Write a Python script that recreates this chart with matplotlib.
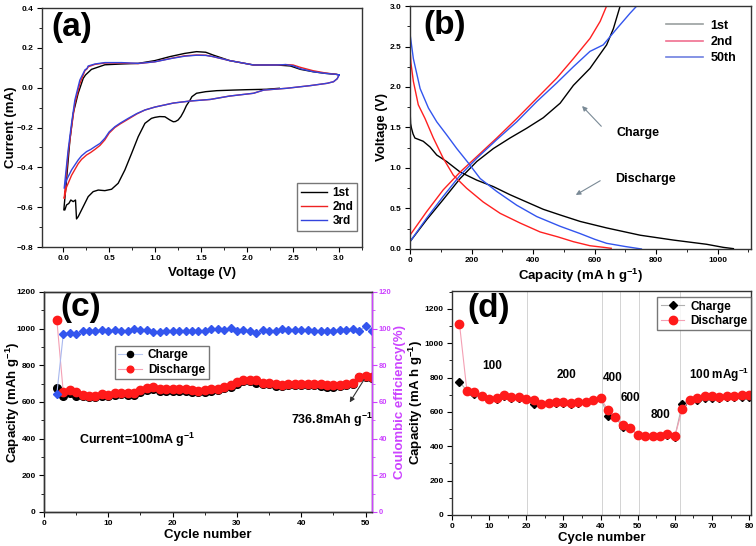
import numpy as np
import matplotlib
matplotlib.use("Agg")
import matplotlib.pyplot as plt
from matplotlib.lines import Line2D
from matplotlib.ticker import MultipleLocator

plt.rcParams['font.family'] = ['Liberation Sans', 'DejaVu Sans']
plt.rcParams['font.weight'] = 'bold'
plt.rcParams['axes.labelweight'] = 'bold'
plt.rcParams['mathtext.fontset'] = 'custom'
plt.rcParams['mathtext.rm'] = 'Liberation Sans:bold'
plt.rcParams['mathtext.it'] = 'Liberation Sans:bold'
plt.rcParams['mathtext.bf'] = 'Liberation Sans:bold'

# ---- (a) cyclic voltammetry: voltage (V) / current (mA)
cv1_v = [2.35, 2.21, 2.0, 1.85, 1.67, 1.55, 1.45, 1.40, 1.38, 1.34, 1.31, 1.28, 1.25, 1.22, 1.197,
         1.16, 1.106, 1.05, 0.997, 0.96, 0.889, 0.816, 0.744, 0.671, 0.598, 0.526, 0.453, 0.381,
         0.326, 0.272, 0.218, 0.163, 0.145, 0.134, 0.109, 0.083, 0.062, 0.036, 0.018, 0.007,
         0.036, 0.073, 0.109, 0.163, 0.218, 0.243, 0.308, 0.453, 0.635, 0.816, 0.997, 1.16, 1.32,
         1.45, 1.55, 1.63, 1.81, 2.07, 2.32, 2.47, 2.58, 2.72, 2.85, 2.97, 3.0]
cv1_i = [-0.003, -0.008, -0.010, -0.012, -0.015, -0.020, -0.028, -0.045, -0.062, -0.09, -0.12,
         -0.145, -0.162, -0.17, -0.171, -0.162, -0.146, -0.145, -0.149, -0.154, -0.179, -0.246,
         -0.33, -0.413, -0.48, -0.51, -0.517, -0.514, -0.522, -0.547, -0.597, -0.648, -0.659,
         -0.564, -0.572, -0.564, -0.581, -0.589, -0.614, -0.614,
         -0.464, -0.263, -0.129, -0.028, 0.047, 0.064, 0.092, 0.115, 0.119, 0.122, 0.136, 0.156,
         0.172, 0.181, 0.178, 0.164, 0.136, 0.114, 0.114, 0.109, 0.092, 0.08, 0.072, 0.067, 0.064]

cv2_v = [3.0, 2.98, 2.94, 2.87, 2.68, 2.43, 2.18, 2.07, 1.81, 1.60, 1.38, 1.20, 1.0, 0.889, 0.80,
         0.707, 0.62, 0.562, 0.50, 0.453, 0.40, 0.345, 0.30, 0.254, 0.20, 0.163, 0.091, 0.036, 0.011,
         0.054, 0.091, 0.127, 0.181, 0.236, 0.26, 0.272, 0.345, 0.453, 0.635, 0.816, 0.997, 1.18,
         1.32, 1.45, 1.55, 1.63, 1.81, 2.07, 2.32, 2.42, 2.5, 2.58, 2.72, 2.85, 2.97, 3.0]
cv2_i = [0.064, 0.045, 0.03, 0.022, 0.010, -0.003, -0.012, -0.028, -0.042, -0.059, -0.067, -0.077,
         -0.097, -0.112, -0.132, -0.158, -0.182, -0.200, -0.228, -0.262, -0.290, -0.310, -0.325,
         -0.338, -0.360, -0.382, -0.44, -0.50, -0.556,
         -0.33, -0.20, -0.08, 0.02, 0.085, 0.095, 0.105, 0.117, 0.124, 0.124, 0.121, 0.130, 0.148,
         0.160, 0.164, 0.163, 0.156, 0.136, 0.114, 0.114, 0.116, 0.114, 0.102, 0.085, 0.074, 0.067, 0.064]

cv3_v = [3.0, 2.98, 2.94, 2.87, 2.68, 2.43, 2.18, 2.07, 1.81, 1.60, 1.38, 1.20, 1.0, 0.889, 0.80,
         0.707, 0.62, 0.562, 0.50, 0.453, 0.40, 0.345, 0.30, 0.254, 0.20, 0.163, 0.091, 0.036, 0.011,
         0.054, 0.091, 0.127, 0.181, 0.236, 0.26, 0.272, 0.345, 0.453, 0.635, 0.816, 0.997, 1.18,
         1.32, 1.45, 1.55, 1.63, 1.81, 2.07, 2.32, 2.42, 2.5, 2.58, 2.72, 2.85, 2.97, 3.0]
cv3_i = [0.064, 0.045, 0.03, 0.022, 0.010, -0.003, -0.012, -0.028, -0.042, -0.059, -0.067, -0.077,
         -0.097, -0.112, -0.130, -0.154, -0.178, -0.196, -0.222, -0.254, -0.280, -0.296, -0.310,
         -0.321, -0.342, -0.363, -0.413, -0.464, -0.505,
         -0.313, -0.179, -0.062, 0.038, 0.089, 0.097, 0.109, 0.119, 0.126, 0.126, 0.122, 0.130,
         0.147, 0.158, 0.163, 0.162, 0.156, 0.136, 0.114, 0.114, 0.116, 0.110, 0.095, 0.08, 0.072, 0.067, 0.064]

# ---- (b) charge / discharge profiles: capacity (mA h g-1) / voltage (V)
dis1_cap = [0, 2, 5, 10, 16, 43, 65, 87, 119, 163, 217, 271, 325, 379, 433, 488, 553, 639, 748, 856, 964, 1018, 1051]
dis1_v = [1.74, 1.55, 1.49, 1.42, 1.37, 1.33, 1.26, 1.16, 1.08, 0.95, 0.85, 0.77, 0.67, 0.58, 0.49,
          0.42, 0.34, 0.26, 0.17, 0.11, 0.058, 0.02, 0.004]
dis2_cap = [0, 3, 11, 27, 49, 76, 108, 141, 184, 238, 293, 358, 423, 480, 531, 585, 630, 654]
dis2_v = [2.48, 2.3, 2.07, 1.78, 1.61, 1.37, 1.12, 0.91, 0.75, 0.58, 0.44, 0.32, 0.21, 0.15, 0.09, 0.04, 0.02, 0.008]
dis50_cap = [0, 11, 33, 60, 87, 119, 152, 190, 228, 282, 347, 412, 488, 553, 600, 639, 700, 752]
dis50_v = [2.66, 2.35, 1.98, 1.74, 1.57, 1.41, 1.24, 1.06, 0.87, 0.71, 0.54, 0.40, 0.28, 0.19, 0.12, 0.07, 0.03, 0.0]
chg1_cap = [0, 54, 108, 163, 217, 271, 325, 379, 433, 488, 531, 585, 639, 661, 683]
chg1_v = [0.09, 0.36, 0.61, 0.87, 1.08, 1.24, 1.37, 1.49, 1.62, 1.80, 2.02, 2.23, 2.52, 2.72, 3.0]
chg2_cap = [0, 54, 108, 163, 217, 282, 347, 412, 477, 531, 585, 618, 639]
chg2_v = [0.17, 0.46, 0.73, 0.95, 1.14, 1.37, 1.61, 1.86, 2.11, 2.35, 2.60, 2.81, 3.0]
chg50_cap = [0, 54, 108, 163, 217, 282, 347, 412, 477, 531, 585, 628, 672, 715, 737]
chg50_v = [0.09, 0.38, 0.65, 0.91, 1.12, 1.35, 1.57, 1.82, 2.05, 2.25, 2.44, 2.52, 2.72, 2.91, 3.0]

# ---- (c) cycling at 100 mA g-1
cyc_c = list(range(2, 52))
dis_c = [1045, 652, 663, 654, 637, 630, 632, 641, 639, 647, 650, 648, 648, 663, 674, 683, 672, 670,
         668, 668, 668, 667, 661, 665, 668, 672, 681, 690, 707, 719, 721, 721, 701, 705, 696, 692,
         699, 699, 699, 699, 699, 696, 690, 690, 692, 698, 703, 734, 741, 736]
chg_c = [676, 632, 648, 634, 630, 625, 627, 634, 634, 640, 642, 640, 640, 655, 665, 672, 662, 660,
         660, 660, 660, 656, 652, 657, 660, 665, 676, 682, 700, 712, 716, 706, 696, 698, 688, 688,
         692, 692, 692, 692, 690, 686, 683, 680, 686, 694, 698, 738, 736, 733]
eff_c = [64.5, 97.1, 97.8, 97.3, 98.7, 98.9, 98.9, 99.2, 98.9, 99.2, 98.9, 98.7, 99.8, 99.1, 99.4,
         98.4, 98.4, 98.7, 98.7, 98.9, 98.9, 98.9, 98.9, 98.9, 99.8, 99.6, 99.1, 100.2, 98.7, 99.2,
         98.9, 97.4, 99.4, 98.5, 98.7, 99.9, 99.1, 99.1, 99.1, 99.1, 98.5, 98.9, 98.7, 98.5, 99.2,
         99.0, 100.0, 98.9, 101.2, 98.9]

# ---- (d) rate capability
cyc_d = list(range(2, 82, 2))
dis_d = [1115, 725, 715, 694, 678, 680, 700, 686, 688, 677, 667, 648, 655, 657, 661, 650, 661, 661,
         671, 680, 611, 572, 523, 508, 467, 463, 461, 461, 471, 459, 616, 671, 680, 696, 692, 688,
         696, 696, 700, 700]
chg_d = [775, 725, 707, 692, 677, 677, 692, 682, 682, 673, 646, 644, 653, 653, 653, 648, 653, 657,
         667, 680, 578, 570, 510, 504, 467, 459, 459, 459, 467, 456, 648, 671, 667, 682, 680, 680,
         686, 686, 686, 686]
rate_edges = [20.3, 40.3, 45.3, 50.3, 61.3]
rate_labels = ['100', '200', '400', '600', '800', '100 mAg$^{-1}$']
rate_label_x = [10.8, 30.7, 43.2, 48.0, 56.1, 71.9]
rate_label_y = [870, 817, 798, 681, 584, 817]

fig = plt.figure(figsize=(7.56, 5.46), dpi=100)
ax_a = fig.add_axes([0.0556, 0.5476, 0.4233, 0.4377])
ax_b = fig.add_axes([0.5423, 0.5440, 0.4510, 0.4450])
ax_c = fig.add_axes([0.0582, 0.0623, 0.4339, 0.4030])
ax_d = fig.add_axes([0.5979, 0.0568, 0.3955, 0.4103])


def style(ax, xmaj, xmin, ymaj, ymin):
    ax.xaxis.set_major_locator(MultipleLocator(xmaj))
    ax.xaxis.set_minor_locator(MultipleLocator(xmin))
    ax.yaxis.set_major_locator(MultipleLocator(ymaj))
    ax.yaxis.set_minor_locator(MultipleLocator(ymin))
    ax.tick_params(which='major', direction='out', length=3.5, width=0.8, labelsize=6, pad=2.5)
    ax.tick_params(which='minor', direction='out', length=2, width=0.6)
    for s in ax.spines.values():
        s.set_linewidth(1.0)
        s.set_color('#333333')
    for lab in ax.get_xticklabels() + ax.get_yticklabels():
        lab.set_fontweight('bold')


leg_kw = dict(fontsize=8.5, frameon=True, fancybox=False, edgecolor='#555555', borderpad=0.3,
              labelspacing=0.2, handletextpad=0.5, borderaxespad=0)

# (a)
ax_a.plot(cv1_v, cv1_i, color='black', lw=1.0, label='1st')
ax_a.plot(cv2_v, cv2_i, color='#ee2222', lw=1.0, label='2nd')
ax_a.plot(cv3_v, cv3_i, color='#3344dd', lw=1.0, label='3rd')
ax_a.set_xlim(-0.23, 3.25)
ax_a.set_ylim(-0.8, 0.4)
style(ax_a, 0.5, 0.25, 0.2, 0.1)
ax_a.set_xlabel('Voltage (V)', fontsize=9.5, labelpad=3)
ax_a.set_ylabel('Current (mA)', fontsize=9.5)
ax_a.yaxis.set_label_coords(-0.078, 0.5)
ax_a.legend(loc='lower right', bbox_to_anchor=(0.984, 0.067), handlelength=2.2, **leg_kw)
ax_a.text(0.03, 0.985, '(a)', transform=ax_a.transAxes, fontsize=24, fontweight='bold', va='top')

# (b)
ax_b.plot(dis1_cap, dis1_v, color='black', lw=1.0)
ax_b.plot(chg1_cap, chg1_v, color='black', lw=1.0)
ax_b.plot(dis2_cap, dis2_v, color='#ff2020', lw=1.0)
ax_b.plot(chg2_cap, chg2_v, color='#ff2020', lw=1.0)
ax_b.plot(dis50_cap, dis50_v, color='#3355ee', lw=1.0)
ax_b.plot(chg50_cap, chg50_v, color='#3355ee', lw=1.0)
ax_b.set_xlim(0, 1108)
ax_b.set_ylim(0, 3.0)
style(ax_b, 200, 100, 0.5, 0.25)
ax_b.set_xlabel('Capacity (mA h g$^{-1}$)', fontsize=9.5, labelpad=2)
ax_b.set_ylabel('Voltage (V)', fontsize=9.5)
ax_b.yaxis.set_label_coords(-0.065, 0.5)
handles_b = [Line2D([], [], color='#9aa0a0', lw=1.2),
             Line2D([], [], color='#f07090', lw=1.2),
             Line2D([], [], color='#7080e0', lw=1.2)]
ax_b.legend(handles_b, ['1st', '2nd', '50th'], loc='upper right', bbox_to_anchor=(0.99, 0.99),
            fontsize=9, frameon=False, handlelength=3.0, labelspacing=0.35, handletextpad=0.6)
ax_b.annotate('', xy=(553, 1.79), xytext=(628, 1.49),
              arrowprops=dict(arrowstyle='-|>', color='#7a8a96', lw=0.8, mutation_scale=7))
ax_b.annotate('', xy=(531, 0.65), xytext=(626, 0.86),
              arrowprops=dict(arrowstyle='-|>', color='#7a8a96', lw=0.8, mutation_scale=7))
ax_b.text(672, 1.43, 'Charge', fontsize=9, fontweight='bold', va='center')
ax_b.text(666, 0.87, 'Discharge', fontsize=9, fontweight='bold', va='center')
ax_b.text(0.038, 0.984, '(b)', transform=ax_b.transAxes, fontsize=24, fontweight='bold', va='top')

# (c)
ax_c2 = ax_c.twinx()
ax_c2.plot(cyc_c, eff_c, color='#a8b8ee', lw=0.8, marker='D', markersize=4.5,
           markerfacecolor='#3355ee', markeredgecolor='#3355ee')
ax_c.plot(cyc_c, chg_c, color='#b8c8f0', lw=0.8, marker='o', markersize=5.5,
          markerfacecolor='black', markeredgecolor='black', label='Charge')
ax_c.plot(cyc_c, dis_c, color='#f4a0b4', lw=0.8, marker='o', markersize=6,
          markerfacecolor='#ff1a1a', markeredgecolor='#ff1a1a', label='Discharge')
ax_c.set_xlim(0, 51)
ax_c.set_ylim(0, 1200)
ax_c2.set_ylim(0, 120)
style(ax_c, 10, 5, 200, 100)
style(ax_c2, 10, 5, 20, 10)
magenta = '#cc44ff'
ax_c2.spines['right'].set_color(magenta)
ax_c2.tick_params(axis='y', which='both', colors=magenta)
ax_c2.tick_params(axis='y', which='major', labelsize=5.5, pad=1.5)
ax_c2.set_ylabel('Coulombic efficiency(%)', fontsize=9.5, color=magenta)
ax_c2.yaxis.set_label_coords(1.066, 0.5)
ax_c.set_xlabel('Cycle number', fontsize=9.5, labelpad=1)
ax_c.set_ylabel('Capacity (mAh g$^{-1}$)', fontsize=9.5)
ax_c.yaxis.set_label_coords(-0.067, 0.5)
ax_c.legend(loc='upper left', bbox_to_anchor=(0.216, 0.755), handlelength=2.0, markerscale=0.8,
            **leg_kw)
ax_c.annotate('', xy=(47.3, 585), xytext=(50.0, 735),
              arrowprops=dict(arrowstyle='-|>', color='#333333', lw=0.8, mutation_scale=7))
ax_c.text(38.4, 502, '736.8mAh g$^{-1}$', fontsize=9, fontweight='bold', va='center')
ax_c.text(5.4, 393, 'Current=100mA g$^{-1}$', fontsize=9, fontweight='bold', va='center')
ax_c.text(0.049, 1.0, '(c)', transform=ax_c.transAxes, fontsize=24, fontweight='bold', va='top')

# (d)
for xe in rate_edges:
    ax_d.axvline(xe, color='#cccccc', lw=0.6, zorder=0)
ax_d.plot(cyc_d, chg_d, color='#b0b0b0', lw=0.8, marker='D', markersize=4,
          markerfacecolor='black', markeredgecolor='black', label='Charge')
ax_d.plot(cyc_d, dis_d, color='#f4a0b4', lw=0.8, marker='o', markersize=6,
          markerfacecolor='#ff1a1a', markeredgecolor='#ff1a1a', label='Discharge')
ax_d.set_xlim(0, 80.5)
ax_d.set_ylim(0, 1305)
style(ax_d, 10, 5, 200, 100)
ax_d.set_xlabel('Cycle number', fontsize=9.5, labelpad=1)
ax_d.set_ylabel('Capacity (mA h g$^{-1}$)', fontsize=9.5)
ax_d.yaxis.set_label_coords(-0.09, 0.5)
ax_d.legend(loc='upper right', bbox_to_anchor=(1.0, 0.973), handlelength=2.0, **leg_kw)
for lab, lx, ly in zip(rate_labels, rate_label_x, rate_label_y):
    ax_d.text(lx, ly, lab, fontsize=8.5, fontweight='bold', ha='center', va='center')
ax_d.text(0.05, 0.99, '(d)', transform=ax_d.transAxes, fontsize=24, fontweight='bold', va='top')

fig.savefig('out.png', dpi=100)
